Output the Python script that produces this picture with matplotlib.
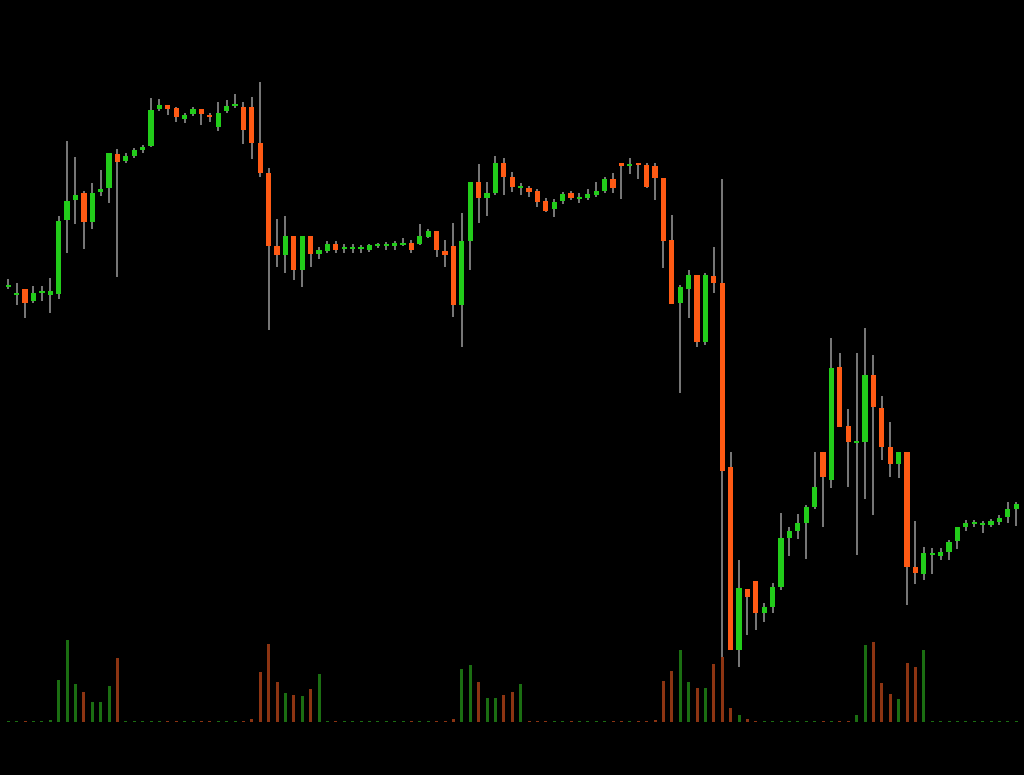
import matplotlib
matplotlib.use("Agg")
import matplotlib.pyplot as plt
import numpy as np

# values read in screen units (higher = larger price), stored as 775 - pixel_y
_open_px = [286,294,289,301,292,295,294,220,200,193,222,192,188,154,161,156,150,146,109,105,108,119,114,109,115,127,111,105,107,107,
            143,173,246,255,236,270,236,254,251,244,248,248,248,250,245,246,246,244,243,244,237,231,251,246,305,241,182,198,193,163,
            177,187,188,191,201,209,201,193,198,198,195,191,179,163,165,163,165,166,178,240,303,289,275,342,276,283,467,650,589,581,
            613,607,587,538,531,523,507,452,480,367,426,442,442,375,408,447,464,452,567,574,554,556,552,541,527,523,524,525,522,517,509]
_close_px = [286,294,303,293,292,291,221,201,195,222,193,189,153,162,156,150,147,110,105,109,117,115,109,114,116,113,106,105,130,143,
             173,246,255,236,270,236,254,250,244,250,248,248,248,245,245,244,243,244,250,236,231,250,255,305,241,182,198,193,163,177,
             187,187,192,202,211,202,194,198,198,194,191,179,188,166,165,165,187,178,241,304,287,275,342,275,283,471,650,588,597,613,
             607,587,538,531,523,507,487,477,368,427,442,442,375,407,447,464,452,567,573,553,554,552,542,527,523,523,524,521,518,509,504]
_high_px = [279,283,289,286,286,278,216,141,157,191,183,170,153,149,153,148,145,98,99,105,107,113,107,109,113,102,100,94,102,97,
            82,168,219,216,236,236,236,247,241,241,244,244,245,244,243,242,241,238,240,224,229,231,240,223,213,182,164,182,156,158,
            172,183,186,189,198,199,192,191,193,189,182,177,173,163,158,163,163,163,178,215,285,270,275,273,247,179,452,560,589,581,
            603,583,513,527,514,505,452,452,338,353,409,353,328,355,396,422,452,452,521,547,548,548,540,527,520,520,521,519,515,502,502]
_low_px = [289,305,318,303,301,313,299,253,224,249,229,196,203,277,163,158,153,147,111,115,122,123,116,125,122,131,113,108,144,159,
           177,330,267,273,280,287,267,259,253,253,253,253,253,252,248,250,250,246,253,245,238,257,267,317,347,270,223,216,195,195,
           192,195,197,207,212,217,204,200,203,200,197,193,193,199,174,179,188,200,268,304,393,318,347,345,293,668,650,667,635,630,
           622,613,590,556,539,559,509,527,488,427,487,555,499,515,460,477,478,605,584,580,574,560,560,549,531,527,533,527,525,523,526]

volume = [0.4,0.4,0.4,0.4,0.4,2,42,82,38,30,20,20,36,64,0.5,0.5,0.5,0.5,0.4,0.4,0.4,0.4,0.4,0.4,0.4,0.4,0.4,0.4,1,3,
          50,78,40,29,27,26,33,48,0.5,0.5,0.4,0.4,0.4,0.4,0.4,0.4,0.4,0.4,0.4,0.4,0.4,0.5,1,3,53,57,40,24,24,27,
          30,38,0.5,0.5,0.4,0.4,0.4,0.4,0.4,0.4,0.4,0.4,0.4,0.4,0.4,0.4,0.4,2,41,51,72,40,34,34,58,65,14,7,3,0.6,
          0.5,0.5,0.5,0.5,0.5,0.5,0.5,0.5,0.5,0.5,0.5,7,77,80,39,28,23,59,55,72,0.6,0.6,0.5,0.5,0.5,0.5,0.5,0.5,0.5,0.5,0.5]

opens = 775 - np.array(_open_px, float)
closes = 775 - np.array(_close_px, float)
highs = 775 - np.array(_high_px, float)
lows = 775 - np.array(_low_px, float)
vol = np.array(volume, float)
n = len(opens)
x = np.arange(n)

UP, DOWN = "#22cc1a", "#ff5a14"
VUP, VDOWN = "#1b6e12", "#8c3412"

fig = plt.figure(figsize=(10.24, 7.75), dpi=100, facecolor="black")
ax = fig.add_axes([0, 0, 1, 1], facecolor="black")
ax.set_xlim(-0.988, 120.92)
ax.set_ylim(0, 775)
ax.axis("off")

up = closes >= opens
ax.vlines(x, lows, highs, color="#9a9a9a", linewidth=1.1, zorder=1)
bottom = np.minimum(opens, closes)
height = np.maximum(np.abs(closes - opens), 1.5)
ax.bar(x, height, bottom=bottom - np.where(np.abs(closes - opens) < 1.5, 0.75, 0),
       width=0.62, color=np.where(up, UP, DOWN), zorder=2, linewidth=0)

vbase = 775 - 721.7
ax.bar(x, vol, bottom=vbase, width=0.36, color=np.where(up, VUP, VDOWN), linewidth=0, zorder=1)

fig.savefig("out.png", dpi=100, facecolor="black")
